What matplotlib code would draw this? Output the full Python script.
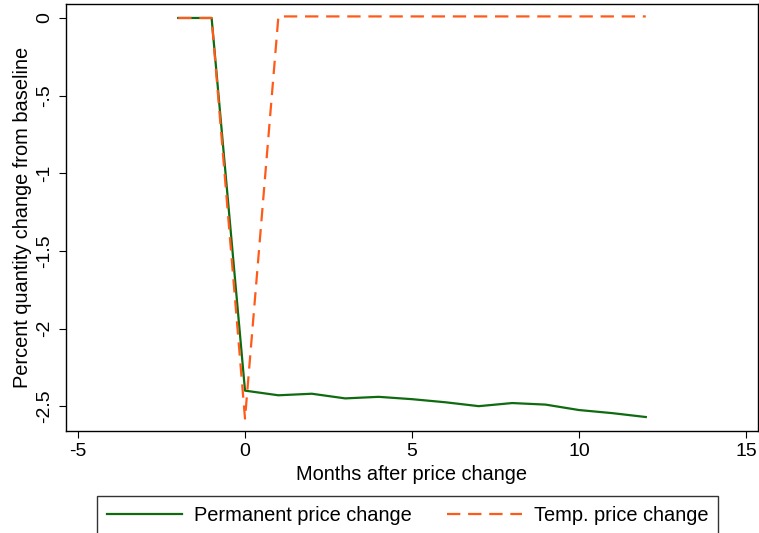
import matplotlib
matplotlib.use("Agg")
import matplotlib.pyplot as plt

plt.rcParams['font.family'] = ['Liberation Sans', 'DejaVu Sans']

# data
months = [-2, -1, 0, 1, 2, 3, 4, 5, 6, 7, 8, 9, 10, 11, 12]
permanent = [0, 0, -2.40, -2.43, -2.42, -2.45, -2.44, -2.455, -2.475,
             -2.50, -2.48, -2.49, -2.525, -2.545, -2.57]
temporary = [0, 0, -2.58, 0.01, 0.01, 0.01, 0.01, 0.01, 0.01,
             0.01, 0.01, 0.01, 0.01, 0.01, 0.01]

xticks = [-5, 0, 5, 10, 15]
yticks = [0, -0.5, -1, -1.5, -2, -2.5]
ytick_labels = ["0", "-.5", "-1", "-1.5", "-2", "-2.5"]

fig = plt.figure(figsize=(7.59, 5.33), dpi=100)
ax = fig.add_axes([66 / 759, 1 - 431 / 533, (758 - 66) / 759, (431 - 4) / 533])

ax.plot(months, permanent, color='#0f6b0f', lw=1.6, label='Permanent price change')
ax.plot(months, temporary, color='#ff5a1a', lw=1.6, ls=(0, (6, 3.5)),
        label='Temp. price change')

ax.set_xlim(-5.36, 15.36)
ax.set_ylim(-2.66, 0.09)
ax.set_xticks(xticks)
ax.set_xticklabels([str(t) for t in xticks])
ax.set_yticks(yticks)
ax.set_yticklabels(ytick_labels, rotation=90, va='center')
ax.tick_params(direction='out', length=5, labelsize=14, pad=4)

for s in ax.spines.values():
    s.set_linewidth(1)
    s.set_color('black')

ax.set_xlabel('Months after price change', fontsize=14.4, labelpad=3)
ax.set_ylabel('Percent quantity change from baseline', fontsize=14.4, labelpad=3)

leg = fig.legend(loc='upper left', bbox_to_anchor=(97 / 759, 1 - 496 / 533),
                 ncol=2, fontsize=14.4, frameon=True, fancybox=False,
                 edgecolor='black', handlelength=3.75, columnspacing=1.75,
                 handletextpad=0.6, borderpad=0.5, borderaxespad=0)
leg.get_frame().set_linewidth(1)

fig.savefig('out.png', dpi=100)
